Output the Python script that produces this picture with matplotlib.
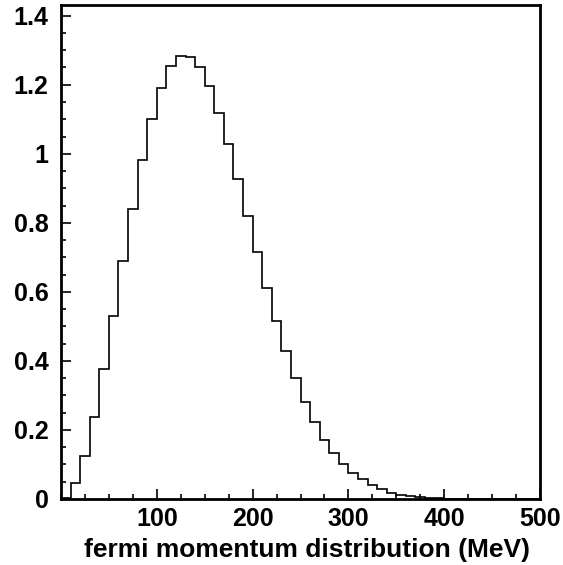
import numpy as np
import matplotlib
matplotlib.use("Agg")
import matplotlib.pyplot as plt
from matplotlib.ticker import MultipleLocator

plt.rcParams["font.family"] = ["Liberation Sans", "DejaVu Sans"]
plt.rcParams["font.weight"] = "bold"

# histogram of fermi momentum, 10 MeV bins from 0 to 500
bin_edges = np.arange(0, 510, 10)
bin_values = [
    0.003, 0.045, 0.126, 0.238, 0.376, 0.530, 0.688, 0.840, 0.981, 1.100,
    1.192, 1.253, 1.284, 1.281, 1.250, 1.196, 1.119, 1.029, 0.927, 0.821,
    0.715, 0.612, 0.516, 0.429, 0.351, 0.281, 0.222, 0.172, 0.134, 0.100,
    0.074, 0.057, 0.040, 0.028, 0.018, 0.012, 0.008, 0.005, 0.003, 0.0015,
    0.0008, 0.0004, 0.0002, 0.0, 0.0, 0.0, 0.0, 0.0, 0.0, 0.0,
]
x_ticks = [100, 200, 300, 400, 500]
y_ticks = [0, 0.2, 0.4, 0.6, 0.8, 1.0, 1.2, 1.4]
y_tick_labels = ["0", "0.2", "0.4", "0.6", "0.8", "1", "1.2", "1.4"]

W, H = 563, 565
fig = plt.figure(figsize=(W / 100, H / 100), dpi=100)
ax = fig.add_axes([61 / W, 1 - 499 / H, (540 - 61) / W, (499 - 5) / H])

ax.stairs(bin_values, bin_edges, color="black", linewidth=1.2, baseline=None)

ax.set_xlim(0, 500)
ax.set_ylim(0, 1.431)

ax.set_xticks(x_ticks)
ax.set_yticks(y_ticks)
ax.set_yticklabels(y_tick_labels)
ax.xaxis.set_minor_locator(MultipleLocator(25))
ax.yaxis.set_minor_locator(MultipleLocator(0.05))

ax.tick_params(which="both", direction="in", top=False, right=False,
               labelsize=18, width=1.2)
ax.tick_params(which="major", length=7)
ax.tick_params(which="minor", length=3.5)
ax.tick_params(axis="x", pad=6)
ax.tick_params(axis="y", pad=9)
for lbl in ax.get_xticklabels() + ax.get_yticklabels():
    lbl.set_fontweight("bold")

for sp in ax.spines.values():
    sp.set_linewidth(2)

fig.text(530 / W, 1 - 557 / H, "fermi momentum distribution (MeV)",
         ha="right", va="baseline", fontsize=19, fontweight="bold")

fig.savefig("out.png", dpi=100)
